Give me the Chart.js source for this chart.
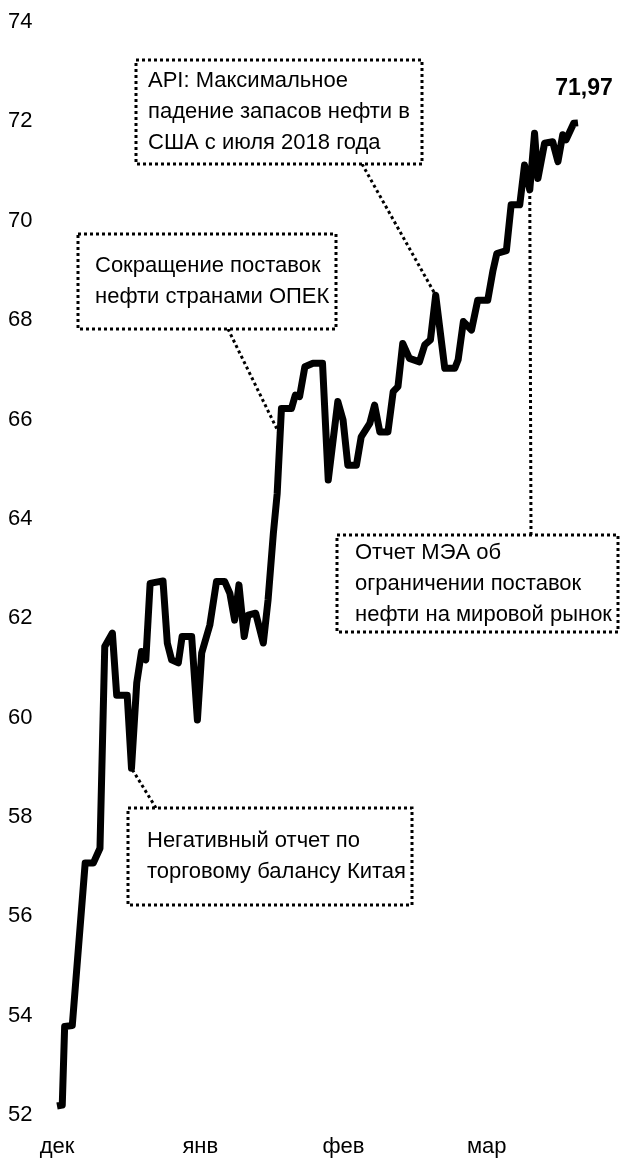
<!DOCTYPE html>
<html lang="ru">
<head>
    <meta charset="UTF-8">
    <title>Нефть</title>
    <style>
        body { margin: 0; background: #fff; }
        #wrap { width: 620px; height: 1164px; }
    </style>
</head>
<body>
<script src="https://cdn.jsdelivr.net/npm/chart.js"></script>
<div id="wrap"><canvas id="chart" width="620" height="1164"></canvas></div>
<script>
    // день от начала декабря (по картинке) и цена
    const days = [
        0, 1.1, 1.6, 3.2, 5.9, 7.6, 9.0, 10.0, 11.6, 12.5, 14.7, 15.6, 16.7, 17.7, 18.6,
        19.5, 22.2, 23.1, 24.0, 25.4, 26.2, 28.2, 29.4, 30.3, 32.0, 33.4, 35.1, 36.2, 37.2,
        38.1, 39.2, 40.0, 41.6, 43.2, 44.2, 45.3, 46.1, 47.0, 49.1, 49.9, 50.8, 51.9, 53.6,
        55.6, 56.8, 58.8, 59.9, 60.9, 62.7, 63.7, 65.5, 66.5, 67.6, 69.3, 70.4, 71.4, 72.4,
        73.8, 75.9, 77.0, 78.2, 79.3, 81.2, 83.3, 84.0, 85.1, 86.8, 88.1, 90.2, 91.3, 92.1,
        94.1, 95.1, 96.9, 97.9, 99.0, 100.0, 100.7, 102.1, 103.8, 104.9, 105.9, 106.6, 108.2, 109.1
    ];
    const prices = [
        52.18, 52.2, 53.78, 53.8, 57.07, 57.07, 57.37, 61.43, 61.7, 60.45, 60.45, 58.98, 60.7, 61.33, 61.16,
        62.7, 62.75, 61.5, 61.16, 61.1, 61.63, 61.63, 59.95, 61.3, 61.86, 62.74, 62.74, 62.5, 61.96,
        62.67, 61.63, 62.06, 62.1, 61.5, 62.37, 63.7, 64.5, 66.22, 66.22, 66.49, 66.46, 67.06, 67.13,
        67.13, 64.78, 66.36, 65.99, 65.08, 65.08, 65.65, 65.92, 66.29, 65.75, 65.75, 66.56, 66.66, 67.53,
        67.23, 67.16, 67.5, 67.6, 68.5, 67.03, 67.03, 67.2, 67.97, 67.8, 68.4, 68.4, 69.0, 69.34,
        69.4, 70.32, 70.32, 71.12, 70.62, 71.76, 70.85, 71.56, 71.59, 71.19, 71.73, 71.63, 71.96, 71.97
    ];
    const monthTicks = [0, 30, 60, 90];
    const monthLabels = ['дек', 'янв', 'фев', 'мар'];
    const lastLabel = '71,97';

    // подписи-сноски: рамка (px), строки, точка на графике (день, цена)
    const notes = [
        { box: [136, 60, 286, 104], pad: 12, lines: ['API: Максимальное', 'падение запасов нефти в', 'США с июля 2018 года'],
          from: [362, 164], to: [79.3, 68.5] },
        { box: [78, 234, 258, 95], pad: 17, lines: ['Сокращение поставок', 'нефти странами ОПЕК'],
          from: [228, 329], to: [46.6, 65.7] },
        { box: [128, 808, 284, 97], pad: 19, lines: ['Негативный отчет по', 'торговому балансу Китая'],
          from: [156, 808], to: [15.6, 58.98] },
        { box: [337, 535, 281, 97], pad: 18, lines: ['Отчет МЭА об', 'ограничении поставок', 'нефти на мировой рынок'],
          from: [531, 535], to: [99.0, 70.62] }
    ];

    const FONT = "'Liberation Sans Narrow', 'Arial Narrow', 'Liberation Sans', Arial, sans-serif";

    const notesPlugin = {
        id: 'notes',
        beforeDatasetsDraw(chart) {
            const ctx = chart.ctx;
            const xs = chart.scales.x, ys = chart.scales.y;
            ctx.save();
            ctx.strokeStyle = '#000';
            ctx.lineWidth = 3;
            ctx.setLineDash([3, 3]);
            notes.forEach(n => {
                ctx.beginPath();
                ctx.moveTo(n.from[0], n.from[1]);
                ctx.lineTo(xs.getPixelForValue(n.to[0]), ys.getPixelForValue(n.to[1]));
                ctx.stroke();
            });
            ctx.restore();
        },
        afterDatasetsDraw(chart) {
            const ctx = chart.ctx;
            const xs = chart.scales.x, ys = chart.scales.y;
            ctx.save();
            notes.forEach(n => {
                const [bx, by, bw, bh] = n.box;
                ctx.fillStyle = '#fff';
                ctx.fillRect(bx, by, bw, bh);
                ctx.strokeStyle = '#000';
                ctx.lineWidth = 3;
                ctx.setLineDash([3, 3]);
                ctx.strokeRect(bx, by, bw, bh);
                ctx.setLineDash([]);
                ctx.fillStyle = '#000';
                ctx.font = '22px ' + FONT;
                ctx.textBaseline = 'middle';
                ctx.textAlign = 'left';
                const startY = by + bh / 2 - (n.lines.length - 1) * 31 / 2;
                n.lines.forEach((t, i) => ctx.fillText(t, bx + n.pad, startY + i * 31));
            });
            // последнее значение
            const lx = xs.getPixelForValue(days[days.length - 1]);
            const ly = ys.getPixelForValue(prices[prices.length - 1]);
            ctx.font = 'bold 23px ' + FONT;
            ctx.textAlign = 'center';
            ctx.textBaseline = 'middle';
            ctx.fillText(lastLabel, lx + 6, ly - 34);
            ctx.restore();
        }
    };

    new Chart(document.getElementById('chart'), {
        type: 'line',
        data: {
            datasets: [{
                data: days.map((d, i) => ({ x: d, y: prices[i] })),
                borderColor: '#000',
                borderWidth: 7,
                borderJoinStyle: 'round',
                pointRadius: 0,
                tension: 0,
                fill: false,
                clip: false
            }]
        },
        options: {
            responsive: false,
            devicePixelRatio: 1,
            animation: false,
            layout: { padding: { left: 8, top: 22, right: 42, bottom: 0 } },
            plugins: { legend: { display: false }, tooltip: { enabled: false } },
            scales: {
                x: {
                    type: 'linear',
                    min: 0,
                    max: 109.1,
                    grid: { display: false, drawTicks: false },
                    border: { display: false },
                    afterBuildTicks: axis => { axis.ticks = monthTicks.map(v => ({ value: v })); },
                    afterFit: axis => { axis.height = 49; },
                    ticks: {
                        padding: 19,
                        maxRotation: 0,
                        autoSkip: false,
                        color: '#000',
                        font: { family: FONT, size: 22 },
                        callback: v => monthLabels[monthTicks.indexOf(v)]
                    }
                },
                y: {
                    min: 52,
                    max: 74,
                    grid: { display: false, drawTicks: false },
                    border: { display: false },
                    afterFit: axis => { axis.width = 49; },
                    ticks: {
                        stepSize: 2,
                        crossAlign: 'far',
                        color: '#000',
                        font: { family: FONT, size: 22 }
                    }
                }
            }
        },
        plugins: [notesPlugin]
    });
</script>
</body>
</html>
